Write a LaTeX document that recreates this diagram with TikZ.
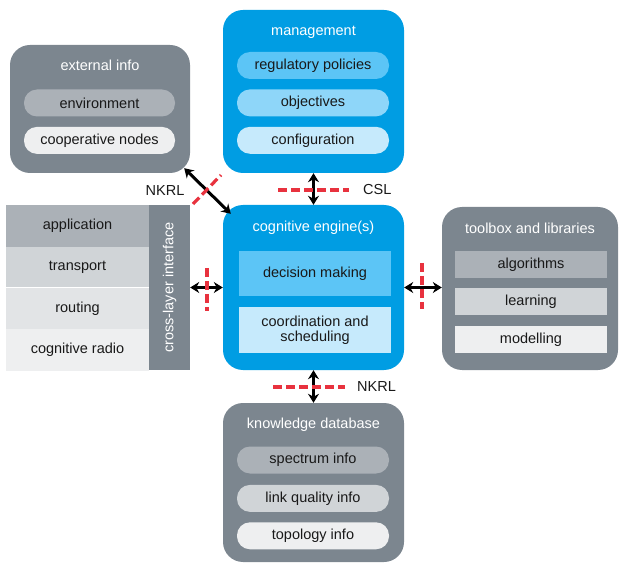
\documentclass[tikz,border=0pt]{standalone}
\usepackage{fontspec}
\setmainfont{Liberation Sans}
\usetikzlibrary{arrows.meta,positioning,calc}

\definecolor{panelgray}{HTML}{7C868F}
\definecolor{panelblue}{HTML}{009DE3}
\definecolor{blueA}{HTML}{5CC5F6}
\definecolor{blueB}{HTML}{8ED6F9}
\definecolor{blueC}{HTML}{C6EAFC}
\definecolor{grayA}{HTML}{ABB1B7}
\definecolor{grayB}{HTML}{D0D4D7}
\definecolor{grayC}{HTML}{E2E4E6}
\definecolor{grayD}{HTML}{EEEFF0}
\definecolor{cutred}{HTML}{E8323E}

\begin{document}
\begin{tikzpicture}[
    x=1pt, y=-1pt,
    font=\fontsize{14.5}{16.5}\selectfont,
    % --- STYLES ---
    panel/.style={
        rectangle, rounded corners=20pt,
        fill=panelgray, draw=none,
        minimum width=181pt, minimum height=163pt,
        inner sep=0pt
    },
    bluepanel/.style={panel, fill=panelblue},
    title/.style={text=white, inner sep=0pt},
    pill/.style={
        rectangle, rounded corners=13pt,
        draw=none, text=black!90,
        minimum width=152pt, minimum height=27pt,
        inner sep=0pt
    },
    block/.style={pill, rounded corners=0pt},
    layer/.style={
        rectangle, draw=none, text=black!90,
        minimum width=143pt, inner sep=0pt
    },
    link/.style={line width=3pt, {Stealth[length=9pt,width=11pt]}-{Stealth[length=9pt,width=11pt]}},
    cut/.style={cutred, line width=3.2pt, dash pattern=on 9pt off 4pt},
    tag/.style={inner sep=0pt, text=black!90}
]

\useasboundingbox (0,0) rectangle (619,564);

% ===== 1. PANELS =====
\node[panel, minimum width=180pt, minimum height=128pt] (ext) at (100,109) {};
\node[bluepanel] (mgmt) at (313.5,91.5) {};
\node[bluepanel, minimum height=165pt] (engine) at (313.5,287.5) {};
\node[panel, minimum width=176pt] (tool) at (530,288.5) {};
\node[panel, minimum height=159pt] (kdb) at (313.5,482.5) {};

% ===== 2. EXTERNAL INFO =====
\node[title] (extT) at (100,65) {external info};
\node[pill, fill=grayA, minimum width=151pt] (env) at (99.5,103) {environment};
\node[pill, fill=grayD, minimum width=151pt, below=10pt of env] (coop) {cooperative nodes};

% ===== 3. MANAGEMENT =====
\node[title] (mgmtT) at (313.5,32) {management};
\node[pill, fill=blueA] (reg) at (313,65.5) {regulatory policies};
\node[pill, fill=blueB, below=10pt of reg] (obj) {objectives};
\node[pill, fill=blueC, below=10pt of obj] (conf) {configuration};

% ===== 4. COGNITIVE ENGINE =====
\node[title] (engT) at (313.5,228) {cognitive engine(s)};
\node[block, fill=blueA, minimum height=45pt] (dec) at (315,273.5) {decision making};
\node[block, fill=blueC, minimum height=46pt, align=center, below=11pt of dec] (coord)
    {coordination and\\[-1pt] scheduling};

% ===== 5. TOOLBOX =====
\node[title] (toolT) at (530,228) {toolbox and libraries};
\node[block, fill=grayA] (algo) at (531,264.5) {algorithms};
\node[block, fill=grayB, below=10pt of algo] (learn) {learning};
\node[block, fill=grayD, below=10pt of learn] (model) {modelling};

% ===== 6. KNOWLEDGE DATABASE =====
\node[title] (kdbT) at (313.5,425) {knowledge database};
\node[pill, fill=grayA] (spec) at (313,460) {spectrum info};
\node[pill, fill=grayB, below=11pt of spec] (lq) {link quality info};
\node[pill, fill=grayD, below=10pt of lq] (topo) {topology info};

% ===== 7. PROTOCOL STACK =====
\node[layer, fill=grayA, minimum height=42pt] (app) at (77.5,226) {application};
\node[layer, fill=grayB, minimum height=40pt, below=0pt of app] (trans) {transport};
\node[layer, fill=grayC, minimum height=41pt, below=0pt of trans] (rout) {routing};
\node[layer, fill=grayD, minimum height=42pt, below=0pt of rout] (radio) {cognitive radio};
\node[rectangle, fill=panelgray, minimum width=41pt, minimum height=165pt, inner sep=0pt]
    (cli) at (169.5,287.5) {};
\node[title, rotate=90] (cliT) at (cli.center) {cross-layer interface};

% ===== 8. CONNECTIONS =====
\draw[link] (mgmt.south) -- (engine.north);
\draw[link] (engine.south) -- (kdb.north);
\draw[link] (cli.east) -- (cli.east -| engine.west);
\draw[link] (engine.east) -- (engine.east -| tool.west);
\draw[link] ([shift={(-6,-5)}]ext.south east) -- ([shift={(8,9)}]engine.north west);

% -- cut marks --
\draw[cut] (278,190) -- (349,190);
\draw[cut] (273,387) -- (345,387);
\draw[cut] (207,268) -- (207,311);
\draw[cut] (422,263) -- (422,309);
\draw[cut] (193,204) -- (221,175);

% -- labels --
\node[tag, anchor=west] (csl) at (363,190) {CSL};
\node[tag, anchor=west] (nkrlB) at (357,387) {NKRL};
\node[tag] (nkrlA) at (165,191) {NKRL};

\end{tikzpicture}
\end{document}
